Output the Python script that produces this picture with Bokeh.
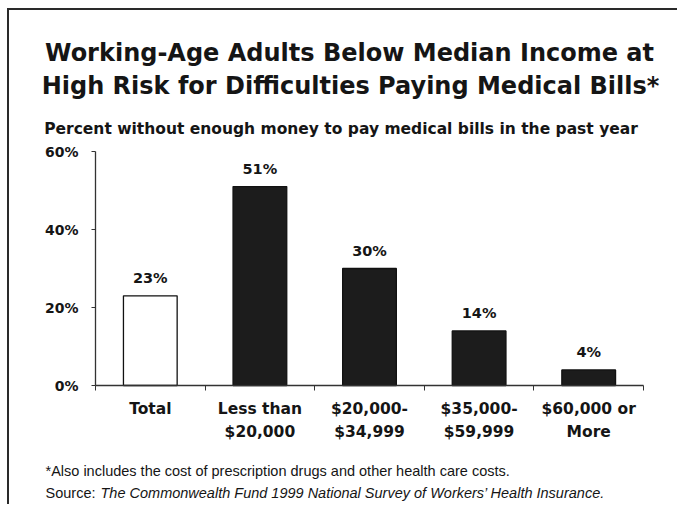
from bokeh.plotting import figure
from bokeh.models import ColumnDataSource, FixedTicker, LabelSet, Label, Range1d
from bokeh.embed import file_html
from bokeh.resources import INLINE
from bokeh.core.properties import value

# ---- data ----
categories = ["Total", "Less than\n$20,000", "$20,000-\n$34,999", "$35,000-\n$59,999", "$60,000 or\nMore"]
percents = [23, 51, 30, 14, 4]
bar_fills = ["#ffffff", "#1c1c1c", "#1c1c1c", "#1c1c1c", "#1c1c1c"]
y_ticks = [0, 20, 40, 60]
title_line1 = "Working-Age Adults Below Median Income at"
title_line2 = "High Risk for Difficulties Paying Medical Bills*"
subtitle = "Percent without enough money to pay medical bills in the past year"
footnote = "*Also includes the cost of prescription drugs and other health care costs."
source_label = "Source:"
source_text = "The Commonwealth Fund 1999 National Survey of Workers\u2019 Health Insurance."

TXT = "#151515"
BOLD = "DejaVu Sans"
REG = "Liberation Sans"

# ---- layout (page pixels) ----
X0, Y0 = 9, 10            # content origin inside the border
WID, HGT = 670, 496
AX_L, AX_R = 95, 643      # plot area left/right (page px)
AX_B, AX_T = 385, 151     # plot area bottom/top (page px)
n = len(categories)
ymax = y_ticks[-1]
px_x = (AX_R - AX_L) / n
px_y = (AX_B - AX_T) / ymax
x_range = Range1d(-(AX_L - X0) / px_x, n + (X0 + WID - AX_R) / px_x)
y_range = Range1d(-(Y0 + HGT - AX_B) / px_y, ymax + (AX_T - Y0) / px_y)

centers = [i + 0.5 for i in range(n)]
src = ColumnDataSource(dict(
    x=centers,
    y=percents,
    fill=bar_fills,
    lab=[f"{v}%" for v in percents],
))

p = figure(width=WID, height=HGT, output_backend="svg", toolbar_location=None,
           x_range=x_range, y_range=y_range, min_border=0,
           background_fill_color="white", border_fill_color="white")
p.styles = {"margin-left": "7px", "margin-top": "8px",
            "border-top": "2px solid #2a2a2a", "border-left": "2px solid #2a2a2a"}
p.outline_line_color = None
p.xgrid.visible = False
p.ygrid.visible = False

p.vbar(x="x", top="y", width=0.49, bottom=0, source=src,
       fill_color="fill", line_color="#111111", line_width=1.3)

ya = p.yaxis[0]
ya.fixed_location = 0
ya.bounds = (0, ymax)
ya.ticker = FixedTicker(ticks=y_ticks)
ya.major_label_overrides = {t: f"{t}%" for t in y_ticks}
ya.major_tick_in = 0
ya.major_tick_out = 4
ya.minor_tick_line_color = None
ya.axis_line_color = "#333333"
ya.axis_line_width = 1.3
ya.major_tick_line_color = "#333333"
ya.major_label_standoff = 13
ya.major_label_text_font = BOLD
ya.major_label_text_font_style = "bold"
ya.major_label_text_font_size = "14px"
ya.major_label_text_color = TXT

xa = p.xaxis[0]
xa.fixed_location = 0
xa.bounds = (0, n)
xa.ticker = FixedTicker(ticks=centers, minor_ticks=list(range(n + 1)))
xa.major_label_overrides = {c: nm for c, nm in zip(centers, categories)}
xa.major_tick_in = 0
xa.major_tick_out = 0
xa.major_tick_line_color = None
xa.minor_tick_in = 0
xa.minor_tick_out = 5
xa.minor_tick_line_color = "#333333"
xa.axis_line_color = "#333333"
xa.axis_line_width = 1.3
xa.major_label_standoff = 9
xa.major_label_text_font = BOLD
xa.major_label_text_font_style = "bold"
xa.major_label_text_font_size = "15.5px"
xa.major_label_text_color = TXT
xa.major_label_text_line_height = 1.3

p.add_layout(LabelSet(x="x", y="y", text="lab", source=src, y_offset=13,
                      text_align="center", text_baseline="alphabetic",
                      text_font=value(BOLD), text_font_style="bold",
                      text_font_size="14.5px", text_color=TXT))


def lab(text, px, py, size, font=BOLD, style="bold", align="center"):
    # px, py: page pixel position of the text anchor (baseline)
    p.add_layout(Label(x=px - X0, y=Y0 + HGT - py, x_units="screen", y_units="screen",
                       text=text, text_align=align, text_baseline="alphabetic",
                       text_font=font, text_font_style=style,
                       text_font_size=size, text_color=TXT))


lab(title_line1, 349, 52, "24px")
lab(title_line2, 350, 85, "24px")
lab(subtitle, 340.5, 128, "15.5px")
lab(footnote, 45, 470, "14.5px", font=REG, style="normal", align="left")
lab(source_label, 45, 492, "14.5px", font=REG, style="normal", align="left")
lab(source_text, 100, 492, "14.5px", font=REG, style="italic", align="left")

open("out.html", "w").write(file_html(p, INLINE))
